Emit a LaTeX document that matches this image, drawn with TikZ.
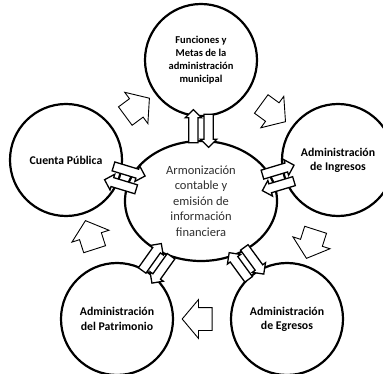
\documentclass[tikz,border=0pt]{standalone}
\usepackage{fontspec}
\setmainfont{Carlito}
\usetikzlibrary{shapes.geometric,shapes.arrows}

\begin{document}
\begin{tikzpicture}[x=1pt,y=-1pt]
	\useasboundingbox (0,0) rectangle (383,374);
	\tikzstyle{every node}=[font=\bfseries\fontsize{11.8}{14.2}\selectfont, align=center, draw, line width=2.2pt, circle, minimum size=112pt, inner sep=0pt]
	\draw (201,60) node[font=\bfseries\fontsize{10.5}{13.2}\selectfont] (p1) {Funciones y\\ Metas de la\\ administración\\ municipal};
	\draw (338,160) node (p2) {Administración\\ de Ingresos};
	\draw (287,319) node (p3) {Administración\\ de Egresos};
	\draw (117,319) node (p4) {Administración\\ del Patrimonio};
	\draw (66,160) node (p5) {Cuenta Pública};
	\draw (201,201) node[ellipse, minimum width=152pt, minimum height=120pt, font=\fontsize{12.5}{15.5}\selectfont, text=black!82] (c0) {Armonización\\ contable y\\ emisión de\\ información\\ financiera};
	\tikzstyle{every node}=[draw, fill=white, single arrow, inner sep=0pt, midway, sloped, allow upside down]
	\tikzstyle{big}=[line width=0.9pt, minimum height=30pt, inner ysep=11pt, single arrow head extend=8pt, single arrow tip angle=100]
	\tikzstyle{pair}=[line width=1.3pt, minimum height=33pt, inner ysep=4pt, single arrow head extend=3.5pt, outer sep=3pt, anchor=south]
	% ciclo exterior
	\path (p5) to node[big] {} (p1);
	\path (p1) to node[big] {} (p2);
	\path (p2) to node[big] {} (p3);
	\path (p3) to node[big] {} (p4);
	\path (p4) to node[big] {} (p5);
	% ida y vuelta con el centro
	\path (c0) to node[pair] {} (p1);
	\path (p1) to node[pair] {} (c0);
	\path (c0) to node[pair] {} (p2);
	\path (p2) to node[pair] {} (c0);
	\path (c0) to node[pair] {} (p3);
	\path (p3) to node[pair] {} (c0);
	\path (c0) to node[pair] {} (p4);
	\path (p4) to node[pair] {} (c0);
	\path (c0) to node[pair] {} (p5);
	\path (p5) to node[pair] {} (c0);
\end{tikzpicture}
\end{document}
